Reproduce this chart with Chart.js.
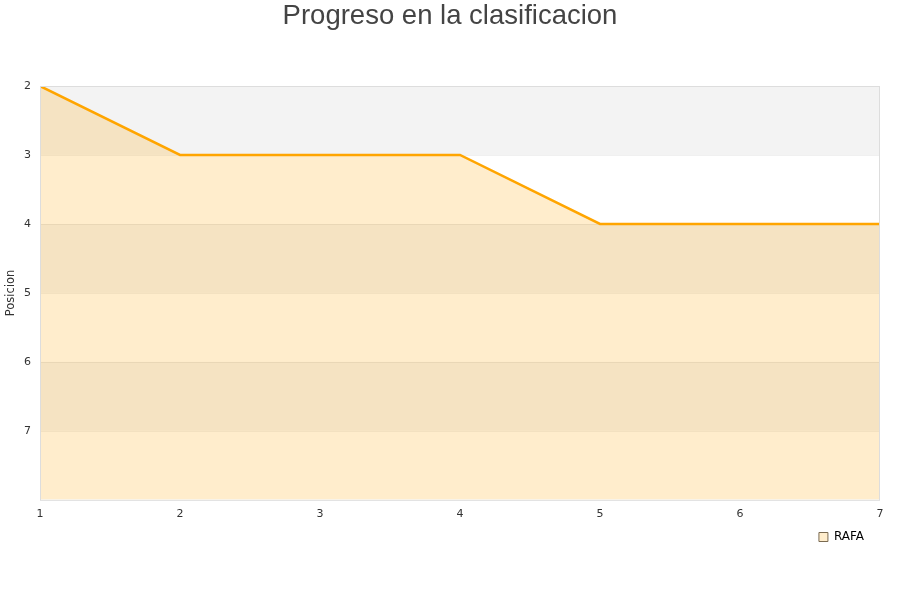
<!DOCTYPE html>
<html><head><meta charset="utf-8">
<script src="https://cdn.jsdelivr.net/npm/chart.js@4"></script>
<style>html,body{margin:0;padding:0;background:#fff}#w{width:900px;height:600px}</style>
</head><body><div id="w"><canvas id="c"></canvas></div>
<script>
const jornadas = [1, 2, 3, 4, 5, 6, 7];
const posiciones = [2, 3, 3, 3, 4, 4, 4];
const seriesName = 'RAFA';
const yTicks = [2, 3, 4, 5, 6, 7];

const bands = {
  id: 'bands',
  afterLayout(chart) {
    if (chart.titleBlock) { chart.titleBlock.left = 0; chart.titleBlock.right = chart.width; }
    if (chart.legend) { chart.legend.left -= 14; chart.legend.right -= 14; }
  },
  beforeDatasetsDraw(chart) {
    const {ctx, chartArea: a, scales: {y}} = chart;
    ctx.save();
    for (let v = 2; v < 8; v++) {
      if ((v - 2) % 2 === 0) {
        const t = y.getPixelForValue(v), b = y.getPixelForValue(v + 1);
        ctx.fillStyle = '#f3f3f3';
        ctx.fillRect(a.left, t, a.right - a.left, b - t);
      }
    }
    ctx.strokeStyle = 'rgba(0,0,0,0.06)';
    ctx.lineWidth = 1;
    for (let v = 3; v < 8; v++) {
      const p = Math.round(y.getPixelForValue(v)) + 0.5;
      ctx.beginPath(); ctx.moveTo(a.left, p); ctx.lineTo(a.right, p); ctx.stroke();
    }
    ctx.restore();
  },
  afterDatasetsDraw(chart) {
    const {ctx, chartArea: a} = chart;
    ctx.save();
    ctx.strokeStyle = '#dddddd';
    ctx.lineWidth = 1;
    ctx.strokeRect(a.left + 0.5, a.top + 0.5, a.right - a.left - 1, a.bottom - a.top);
    ctx.restore();
  }
};

new Chart(document.getElementById('c'), {
  type: 'line',
  data: {
    datasets: [{
      label: seriesName,
      data: jornadas.map((x, i) => ({x, y: posiciones[i]})),
      borderColor: '#ffa500',
      backgroundColor: 'rgba(255,165,0,0.2)',
      borderWidth: 2.5,
      pointRadius: 0,
      tension: 0,
      fill: 'start'
    }]
  },
  options: {
    responsive: true,
    maintainAspectRatio: false,
    animation: false,
    layout: {padding: {left: 0, right: 20, top: 0, bottom: 47}},
    plugins: {
      title: {display: true, text: 'Progreso en la clasificacion', color: '#444',
        font: {family: 'Liberation Sans', size: 27.5, weight: 'normal'}, padding: {top: 0, bottom: 53}},
      legend: {display: true, position: 'bottom', align: 'end',
        labels: {boxWidth: 9, boxHeight: 9, color: '#000', font: {family: 'DejaVu Sans', size: 12}, padding: 2,
          generateLabels: (chart) => chart.data.datasets.map((d, i) => ({
            text: d.label, fillStyle: 'rgba(255,165,0,0.2)', strokeStyle: '#7a6a50', lineWidth: 1,
            hidden: false, datasetIndex: i, fontColor: '#000'
          }))}},
      tooltip: {enabled: false}
    },
    scales: {
      x: {type: 'linear', min: 1, max: 7,
        grid: {display: false, drawTicks: false},
        border: {display: false},
        ticks: {stepSize: 1, color: '#333', font: {family: 'DejaVu Sans', size: 11}, padding: 8}
      },
      y: {type: 'linear', reverse: true, min: 2, max: 8,
        grid: {display: false, drawTicks: false},
        border: {display: false},
        afterFit: (s) => { s.width = 40; },
        title: {display: true, text: 'Posicion', color: '#333', font: {family: 'DejaVu Sans', size: 11.5}, padding: {top: 4, bottom: 2}},
        ticks: {stepSize: 1, color: '#333', font: {family: 'DejaVu Sans', size: 11}, padding: 9,
          callback: v => yTicks.includes(v) ? String(v) : ''}
      }
    }
  },
  plugins: [bands]
});
</script></body></html>
